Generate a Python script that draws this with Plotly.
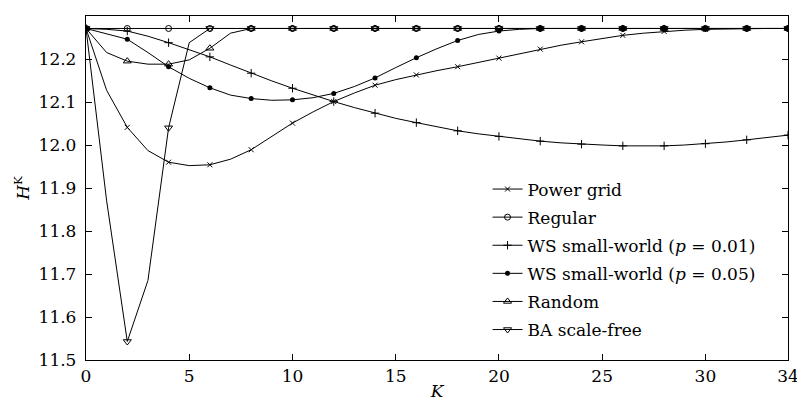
import plotly.graph_objects as go

K = list(range(35))

power_grid = [12.271, 12.127, 12.041, 11.987, 11.960, 11.952, 11.954, 11.967, 11.989, 12.019,
              12.051, 12.077, 12.101, 12.121, 12.139, 12.152, 12.163, 12.173, 12.182, 12.192,
              12.202, 12.213, 12.223, 12.232, 12.240, 12.248, 12.255, 12.260, 12.264, 12.267,
              12.269, 12.270, 12.271, 12.271, 12.271]
regular = [12.271, 12.271, 12.271, 12.271, 12.271, 12.271, 12.271, 12.271, 12.271, 12.271,
           12.271, 12.271, 12.271, 12.271, 12.271, 12.271, 12.271, 12.271, 12.271, 12.271,
           12.271, 12.271, 12.271, 12.271, 12.271, 12.271, 12.271, 12.271, 12.271, 12.271,
           12.271, 12.271, 12.271, 12.271, 12.271]
ws_001 = [12.271, 12.269, 12.265, 12.253, 12.238, 12.222, 12.205, 12.186, 12.167, 12.149,
          12.132, 12.116, 12.101, 12.087, 12.074, 12.062, 12.052, 12.042, 12.033, 12.026,
          12.020, 12.014, 12.009, 12.005, 12.002, 12.000, 11.998, 11.998, 11.998, 12.000,
          12.003, 12.007, 12.012, 12.017, 12.023]
ws_005 = [12.271, 12.259, 12.246, 12.215, 12.182, 12.155, 12.133, 12.116, 12.108, 12.104,
          12.105, 12.110, 12.120, 12.136, 12.156, 12.180, 12.203, 12.224, 12.243, 12.257,
          12.265, 12.269, 12.271, 12.271, 12.271, 12.271, 12.271, 12.271, 12.271, 12.271,
          12.271, 12.271, 12.271, 12.271, 12.271]
random_net = [12.271, 12.215, 12.195, 12.188, 12.188, 12.198, 12.225, 12.260, 12.271, 12.271,
              12.271, 12.271, 12.271, 12.271, 12.271, 12.271, 12.271, 12.271, 12.271, 12.271,
              12.271, 12.271, 12.271, 12.271, 12.271, 12.271, 12.271, 12.271, 12.271, 12.271,
              12.271, 12.271, 12.271, 12.271, 12.271]
ba_scale_free = [12.271, 11.870, 11.543, 11.685, 12.040, 12.238, 12.271, 12.271, 12.271, 12.271,
                 12.271, 12.271, 12.271, 12.271, 12.271, 12.271, 12.271, 12.271, 12.271, 12.271,
                 12.271, 12.271, 12.271, 12.271, 12.271, 12.271, 12.271, 12.271, 12.271, 12.271,
                 12.271, 12.271, 12.271, 12.271, 12.271]

series_names = ["Power grid", "Regular", "WS small-world (<i>p</i> = 0.01)",
                "WS small-world (<i>p</i> = 0.05)", "Random", "BA scale-free"]
series_values = [power_grid, regular, ws_001, ws_005, random_net, ba_scale_free]
markers = [
    dict(symbol="x-thin", size=5, color="black", line=dict(width=1, color="black")),
    dict(symbol="circle-open", size=6, color="black", line=dict(width=1, color="black")),
    dict(symbol="cross-thin", size=6, color="black", line=dict(width=1, color="black")),
    dict(symbol="circle", size=5, color="black"),
    dict(symbol="triangle-up-open", size=7, color="black", line=dict(width=1, color="black")),
    dict(symbol="triangle-down-open", size=7, color="black", line=dict(width=1, color="black")),
]

FONT = "DejaVu Serif"
fig = go.Figure()
for i, (name, vals, mk) in enumerate(zip(series_names, series_values, markers)):
    g = f"g{i}"
    fig.add_trace(go.Scatter(x=K, y=vals, mode="lines", line=dict(color="black", width=1),
                             legendgroup=g, showlegend=False, hoverinfo="skip"))
    fig.add_trace(go.Scatter(x=K[::2], y=vals[::2], mode="markers", marker=mk,
                             legendgroup=g, showlegend=False))
    fig.add_trace(go.Scatter(x=[None], y=[None], mode="lines+markers", name=name,
                             line=dict(color="black", width=1), marker=mk,
                             legendgroup=g, showlegend=True))

axis_common = dict(showline=True, linecolor="black", linewidth=1.3, mirror="ticks",
                   ticks="inside", ticklen=6, tickwidth=1, tickcolor="black",
                   showgrid=False, zeroline=False, automargin=False,
                   tickfont=dict(family=FONT, size=17, color="black"))

# the page body adds an 8 px offset, so the figure is sized to fit the 805x401 window
fig.update_layout(
    width=797, height=393,
    margin=dict(l=78, r=17, t=8, b=41),
    paper_bgcolor="white", plot_bgcolor="white",
    font=dict(family=FONT, size=17, color="black"),
    xaxis=dict(range=[0, 34], tickvals=[0, 5, 10, 15, 20, 25, 30, 34],
               title=dict(text="<i>K</i>", font=dict(family=FONT, size=17), standoff=0),
               **axis_common),
    yaxis=dict(range=[11.5, 12.3], tickvals=[11.5, 11.6, 11.7, 11.8, 11.9, 12.0, 12.1, 12.2, 12.3],
               ticktext=["11.5", "11.6", "11.7", "11.8", "11.9", "12.0", "12.1", "12.2", "12.3"],
               ticklabelstandoff=5,
               title=dict(text="<i>H</i><sup>K</sup>", font=dict(family=FONT, size=17), standoff=4),
               **axis_common),
    legend=dict(x=0.572, y=0.548, xanchor="left", yanchor="top",
                bgcolor="rgba(0,0,0,0)", borderwidth=0, tracegroupgap=3,
                font=dict(family=FONT, size=17, color="black")),
    showlegend=True,
)

fig.write_html("out.html")
